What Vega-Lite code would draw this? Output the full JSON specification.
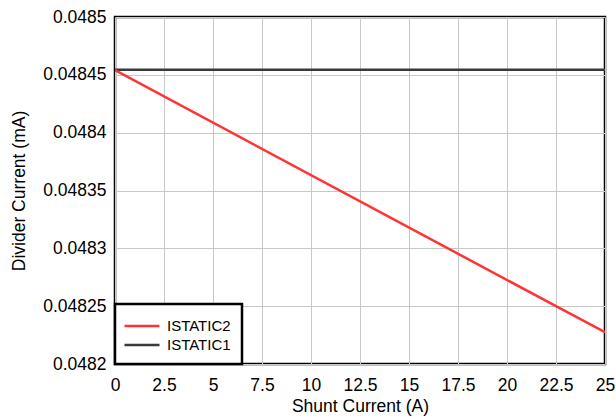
{
  "$schema": "https://vega.github.io/schema/vega-lite/v6.json",
  "width": 490,
  "height": 347,
  "autosize": {"type": "none"},
  "padding": {"left": 115, "top": 17, "right": 11, "bottom": 55},
  "background": "white",
  "config": {
    "font": "Liberation Sans",
    "view": {"stroke": "black", "strokeWidth": 2.5},
    "legend": {"strokeColor": "black", "strokeWidth": 2.5, "fillColor": "white"},
    "axis": {
      "labelFont": "Liberation Sans",
      "titleFont": "Liberation Sans",
      "labelFontSize": 17.5,
      "titleFontSize": 17.5,
      "labelColor": "black",
      "titleColor": "black",
      "titleFontWeight": "normal",
      "domain": false,
      "ticks": false,
      "gridColor": "#c8c8c8",
      "gridWidth": 1,
      "gridOpacity": 1
    }
  },
  "data": {
    "values": [
      {"shunt": 0, "current": 0.0484543, "series": "ISTATIC1"},
      {"shunt": 25, "current": 0.0484543, "series": "ISTATIC1"},
      {"shunt": 0, "current": 0.048454, "series": "ISTATIC2"},
      {"shunt": 22.5, "current": 0.04825, "series": "ISTATIC2"},
      {"shunt": 25, "current": 0.0482275, "series": "ISTATIC2"}
    ]
  },
  "mark": {"type": "line", "strokeWidth": 2.5, "clip": true},
  "encoding": {
    "x": {
      "field": "shunt",
      "type": "quantitative",
      "title": "Shunt Current (A)",
      "scale": {"domain": [0, 25], "nice": false},
      "axis": {
        "values": [0, 2.5, 5, 7.5, 10, 12.5, 15, 17.5, 20, 22.5, 25],
        "format": ".3~g",
        "labelFlush": false,
        "labelPadding": 12,
        "titlePadding": 4
      }
    },
    "y": {
      "field": "current",
      "type": "quantitative",
      "title": "Divider Current (mA)",
      "scale": {"domain": [0.0482, 0.0485], "nice": false, "zero": false},
      "axis": {
        "values": [0.0482, 0.04825, 0.0483, 0.04835, 0.0484, 0.04845, 0.0485],
        "format": ".5~f",
        "labelFlush": false,
        "labelPadding": 9,
        "titlePadding": 14
      }
    },
    "color": {
      "field": "series",
      "type": "nominal",
      "scale": {"domain": ["ISTATIC2", "ISTATIC1"], "range": ["#ff3333", "#3a3a3a"]},
      "legend": {
        "title": null,
        "orient": "bottom-left",
        "offset": 0,
        "padding": 11,
        "symbolType": "M-1.842,0H1.842",
        "symbolSize": 361,
        "symbolStrokeWidth": 2.5,
        "symbolOffset": 5,
        "labelFont": "Liberation Sans",
        "labelFontSize": 15,
        "labelColor": "black",
        "rowPadding": 0,
        "labelOffset": 14
      }
    }
  }
}
